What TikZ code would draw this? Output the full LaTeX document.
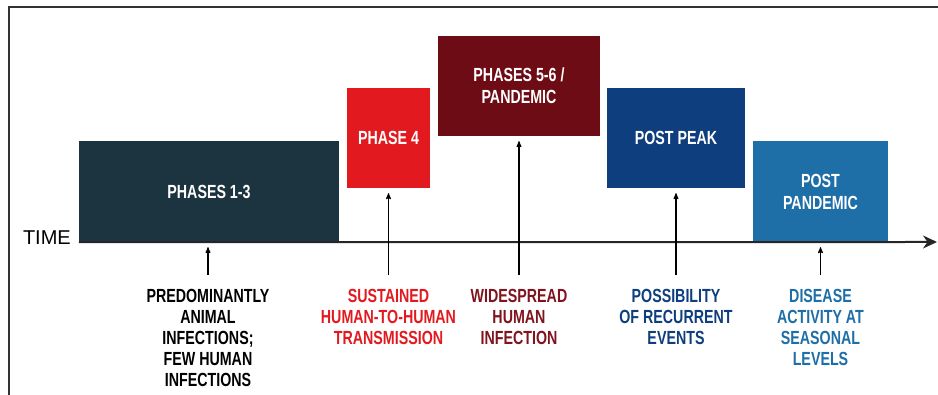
\documentclass[tikz,border=0pt]{standalone}
\usepackage{fontspec}
\setmainfont{Liberation Sans}
\newfontfamily\condfont{Liberation Sans}[FakeStretch=0.75]
\usetikzlibrary{arrows}
\usetikzlibrary{arrows.meta}
\usetikzlibrary{calc}

\definecolor{slate}{RGB}{27,52,64}
\definecolor{phred}{RGB}{226,26,32}
\definecolor{maroon}{RGB}{110,12,22}
\definecolor{maroontxt}{RGB}{128,20,30}
\definecolor{navy}{RGB}{14,62,125}
\definecolor{postblue}{RGB}{30,110,168}

\begin{document}
\begin{tikzpicture}[>=stealth',x=1pt,y=1pt,
  phase/.style={rectangle,draw=none,inner sep=0pt,text=white,align=center,
    font=\condfont\bfseries\fontsize{19}{22}\selectfont,minimum height=100pt},
  lab/.style={inner sep=0pt,outer sep=14pt,align=center,anchor=north,
    font=\condfont\bfseries\fontsize{19}{21}\selectfont},
  ptr/.style={->,line width=1.1pt,shorten >=5pt}]
\useasboundingbox (0,0) rectangle (938,395);

% frame
\draw[line width=1.4pt,black!80] (9,0) -- (9,388) -- (938,388);

% phase boxes
\node[phase,fill=slate,minimum width=260pt,minimum height=101pt] (p13) at (209,203.5) {PHASES 1-3};
\node[phase,fill=phred,minimum width=83pt] (p4) at (388.5,257) {PHASE 4};
\node[phase,fill=maroon,minimum width=162pt] (p56) at (519,309) {PHASES 5-6 /\\PANDEMIC};
\node[phase,fill=navy,minimum width=138pt] (peak) at (676,257) {POST PEAK};
\node[phase,fill=postblue,minimum width=135pt,minimum height=101pt] (post) at (820.5,203.5) {POST\\PANDEMIC};

% time axis
\node[inner sep=0pt,anchor=east,font=\fontsize{20}{24}\selectfont] (time) at (71,157) {TIME};
\coordinate (tend) at (937,153);
\draw[-{Stealth[length=14pt,width=13pt]},line width=2pt,black!85] (p13.south west) -- (tend);

% descriptions
\node[lab] (l13) at (208,120) {PREDOMINANTLY\\ANIMAL\\INFECTIONS;\\FEW HUMAN\\INFECTIONS};
\node[lab,text=phred] (l4) at (388.5,120) {SUSTAINED\\HUMAN-TO-HUMAN\\TRANSMISSION};
\node[lab,text=maroontxt] (l56) at (519,120) {WIDESPREAD\\HUMAN\\INFECTION};
\node[lab,text=navy] (lpeak) at (676,120) {POSSIBILITY\\OF RECURRENT\\EVENTS};
\node[lab,text=postblue] (lpost) at (820.5,120) {DISEASE\\ACTIVITY AT\\SEASONAL\\LEVELS};

\draw[ptr] (l13.north) -- (l13.north |- p13.south);
\draw[ptr] (l4.north) -- (p4.south);
\draw[ptr] (l56.north) -- (p56.south);
\draw[ptr] (lpeak.north) -- (peak.south);
\draw[ptr] (lpost.north) -- (lpost.north |- post.south);
\end{tikzpicture}
\end{document}
